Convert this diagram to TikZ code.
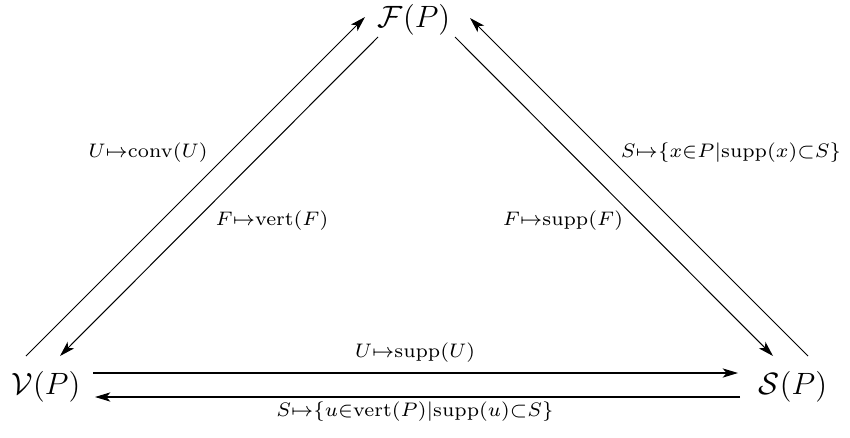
\documentclass[tikz,border=0pt]{standalone}
\usepackage{amsmath,amssymb}
\usepackage{graphicx}
\usetikzlibrary{calc,arrows.meta}
\newcommand{\maplabel}[1]{\scalebox{1.09}{$\scriptstyle #1$}}
\tikzset{
  obj/.style={font=\large},
  lbl/.style={inner sep=0pt},
  map/.style={-{Stealth[length=6pt,width=3.6pt,inset=1.6pt]}},
}
\begin{document}
\begin{tikzpicture}[x=0.01369cm,y=0.01369cm]
\useasboundingbox (0,0) rectangle (850,437);
% the three objects
\node[obj] (F) at (414,417) {$\mathcal{F}(P)$};
\node[obj] (V) at (46,50) {$\mathcal{V}(P)$};
\node[obj] (S) at (793,50) {$\mathcal{S}(P)$};

% faces and vertex sets
\draw[map] ([shift={(-20,31)}]V.center) -- ([shift={(-49,3)}]F.center);
\draw[map] ([shift={(-36,-17)}]F.center) -- ([shift={(14,31)}]V.center);
\node[lbl] (conv) at (148,284) {\maplabel{U\mapsto\mathrm{conv}(U)}};
\node[lbl] (vert) at (272,216) {\maplabel{F\mapsto\mathrm{vert}(F)}};

% faces and supports
\draw[map] ([shift={(15,31)}]S.center) -- ([shift={(56,2)}]F.center);
\draw[map] ([shift={(41,-17)}]F.center) -- ([shift={(-20,31)}]S.center);
\node[lbl] (face) at (731,284) {\maplabel{S\mapsto\{x\in P|\mathrm{supp}(x)\subset S\}}};
\node[lbl] (suppF) at (563,216) {\maplabel{F\mapsto\mathrm{supp}(F)}};

% vertex sets and supports
\draw[map] ([shift={(47,14)}]V.center) -- ([shift={(-55,14)}]S.center);
\draw[map] ([shift={(-53,-10)}]S.center) -- ([shift={(49,-10)}]V.center);
\node[lbl] (suppU) at (415,84) {\maplabel{U\mapsto\mathrm{supp}(U)}};
\node[lbl] (verts) at (415,25) {\maplabel{S\mapsto\{u\in\mathrm{vert}(P)|\mathrm{supp}(u)\subset S\}}};
\end{tikzpicture}
\end{document}
